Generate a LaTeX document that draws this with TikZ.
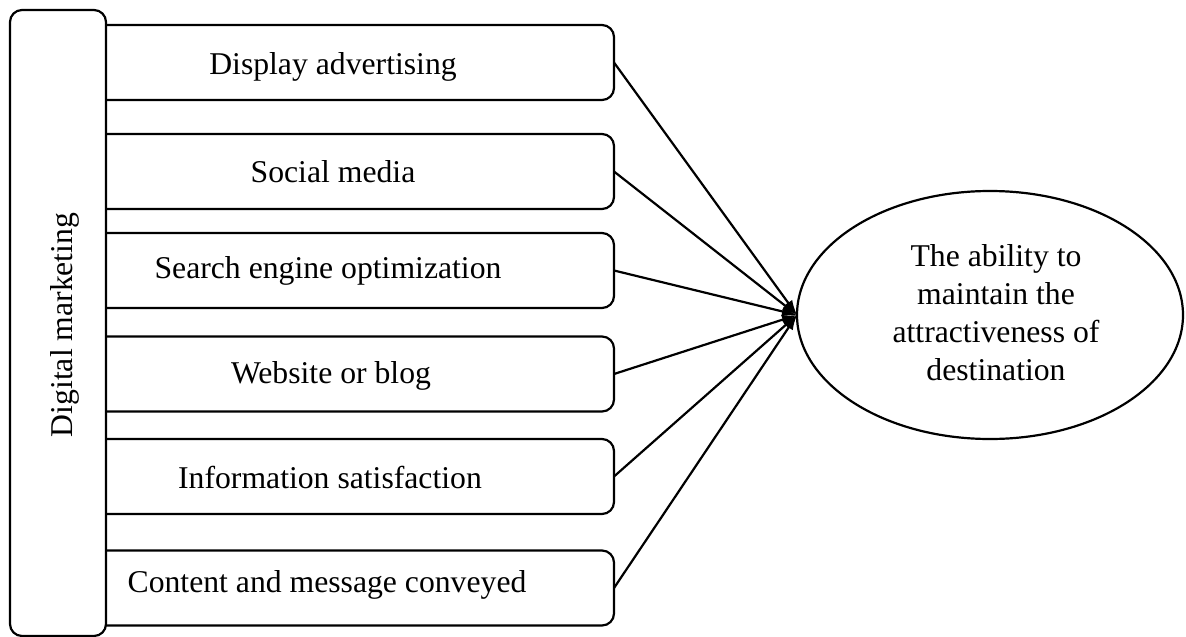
\documentclass[tikz,border=0pt]{standalone}
\usepackage{fontspec}
\setmainfont{Liberation Serif}
\usetikzlibrary{shapes.geometric,arrows.meta}
\begin{document}
\begin{tikzpicture}[x=1pt,y=-1pt,
  every node/.style={inner sep=0pt,outer sep=0pt},
  ln/.style={line width=2.2pt},
  itembox/.style={ln,draw,rounded corners=12pt,minimum width=534pt,minimum height=75pt},
  lab/.style={font=\fontsize{31.7}{38}\selectfont,anchor=base},
  conn/.style={ln,-{Latex[length=15pt,width=10pt]}},
]
\useasboundingbox (0,0) rectangle (1186,637);
% item boxes (left part hidden behind the tall box)
\node[itembox] (b1) at (347,62.5) {};
\node[itembox] (b2) at (347,171.5) {};
\node[itembox] (b3) at (347,270.5) {};
\node[itembox] (b4) at (347,374) {};
\node[itembox] (b5) at (347,476.5) {};
\node[itembox] (b6) at (347,588) {};
% tall box
\node[ln,draw,fill=white,rounded corners=12pt,minimum width=96pt,minimum height=626pt] (dm) at (58,323) {};
\node[lab,rotate=90] (dmt) at (72,325) {Digital marketing};
% labels
\node[lab] (t1) at (333,74) {Display advertising};
\node[lab] (t2) at (333,182) {Social media};
\node[lab] (t3) at (328,278) {Search engine optimization};
\node[lab] (t4) at (331,383) {Website or blog};
\node[lab] (t5) at (330,488) {Information satisfaction};
\node[lab] (t6) at (327,592) {Content and message conveyed};
% ellipse
\node[ln,draw,ellipse,minimum width=386pt,minimum height=248pt] (el) at (990,315) {};
\node[font=\fontsize{31.7}{38}\selectfont,align=center] (et) at (996,313) {The ability to\\maintain the\\attractiveness of\\destination};
\coordinate (hub) at (el.west);
\foreach \b in {b1,b2,b3,b4,b5,b6} \draw[conn] (\b.east) -- (hub);
\end{tikzpicture}
\end{document}
